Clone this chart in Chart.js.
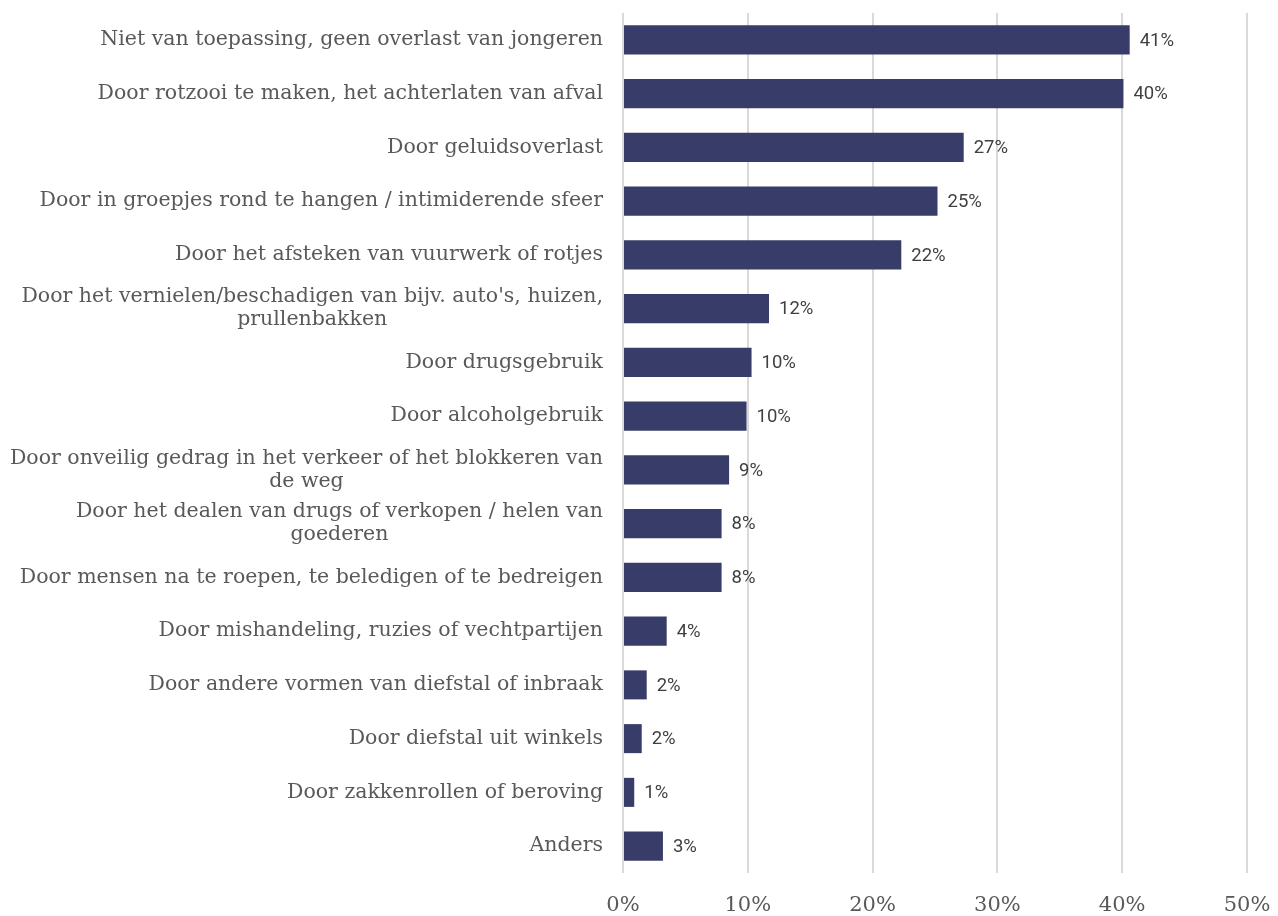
<!DOCTYPE html>
<html>
<head>
<meta charset="utf-8">
<script src="https://cdn.jsdelivr.net/npm/chart.js@4/dist/chart.umd.min.js"></script>
<style>
  html, body { margin: 0; padding: 0; background: #fff; }
</style>
</head>
<body>
<canvas id="chart" width="1278" height="916"></canvas>
<script>
const categories = [
    ['Niet van toepassing, geen overlast van jongeren'],
    ['Door rotzooi te maken, het achterlaten van afval'],
    ['Door geluidsoverlast'],
    ['Door in groepjes rond te hangen / intimiderende sfeer'],
    ['Door het afsteken van vuurwerk of rotjes'],
    ["Door het vernielen/beschadigen van bijv. auto's, huizen,", 'prullenbakken'],
    ['Door drugsgebruik'],
    ['Door alcoholgebruik'],
    ['Door onveilig gedrag in het verkeer of het blokkeren van', 'de weg'],
    ['Door het dealen van drugs of verkopen / helen van', 'goederen'],
    ['Door mensen na te roepen, te beledigen of te bedreigen'],
    ['Door mishandeling, ruzies of vechtpartijen'],
    ['Door andere vormen van diefstal of inbraak'],
    ['Door diefstal uit winkels'],
    ['Door zakkenrollen of beroving'],
    ['Anders']
];
const values = [40.6, 40.1, 27.3, 25.2, 22.3, 11.7, 10.3, 9.9, 8.5, 7.9, 7.9, 3.5, 1.9, 1.5, 0.9, 3.2];
const valueLabels = ['41%', '40%', '27%', '25%', '22%', '12%', '10%', '10%', '9%', '8%', '8%', '4%', '2%', '2%', '1%', '3%'];
const xTicks = ['0%', '10%', '20%', '30%', '40%', '50%'];

const serif = '"DejaVu Serif", serif';

const labelPlugin = {
    id: 'labels',
    afterDraw(chart) {
        const ctx = chart.ctx;
        const y = chart.scales.y;
        const x = chart.scales.x;
        const right = x.left - 20;
        ctx.save();
        // category labels: block right aligned, lines centered within block
        ctx.font = '20.5px ' + serif;
        ctx.fillStyle = '#595959';
        ctx.textBaseline = 'middle';
        ctx.textAlign = 'center';
        const lh = 23;
        categories.forEach((lines, i) => {
            const cy = y.getPixelForValue(i);
            const w = Math.max(...lines.map(l => ctx.measureText(l).width));
            const cx = right - w / 2;
            const top = cy - (lines.length - 1) * lh / 2;
            lines.forEach((l, j) => ctx.fillText(l, cx, top + j * lh));
        });
        // value labels
        ctx.font = '18.5px Roboto, sans-serif';
        ctx.fillStyle = '#404040';
        ctx.textAlign = 'left';
        values.forEach((v, i) => {
            ctx.fillText(valueLabels[i], x.getPixelForValue(v) + 10, y.getPixelForValue(i) + 1);
        });
        ctx.restore();
    }
};

const ctx = document.getElementById('chart').getContext('2d');

new Chart(ctx, {
    type: 'bar',
    data: {
        labels: categories,
        datasets: [{
            data: values,
            backgroundColor: '#383c68',
            barPercentage: 0.54,
            categoryPercentage: 1
        }]
    },
    options: {
        indexAxis: 'y',
        responsive: false,
        animation: false,
        devicePixelRatio: 1,
        layout: { padding: { top: 13, right: 31, bottom: 0, left: 0 } },
        plugins: { legend: { display: false }, tooltip: { enabled: false } },
        scales: {
            x: {
                min: 0,
                max: 50,
                ticks: {
                    stepSize: 10,
                    callback: (v, i) => xTicks[i],
                    font: { family: serif, size: 21 },
                    color: '#595959',
                    padding: 20,
                    maxRotation: 0
                },
                grid: { color: '#d9d9d9', lineWidth: 2, drawTicks: false },
                border: { display: false },
                afterFit: s => { s.height = 43; s.paddingLeft = 0; s.paddingRight = 0; }
            },
            y: {
                ticks: { display: false },
                grid: { display: false },
                border: { display: false },
                afterFit: s => { s.width = 623; }
            }
        }
    },
    plugins: [labelPlugin]
});
</script>
</body>
</html>
